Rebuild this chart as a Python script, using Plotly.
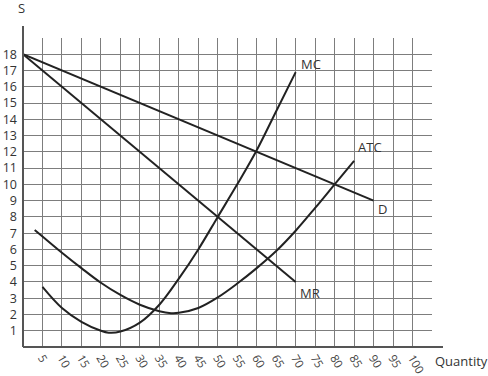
import plotly.graph_objects as go

# Demand and marginal revenue (straight lines)
d_x = [0, 90]
d_y = [18, 9]
mr_x = [0, 70]
mr_y = [18, 4]

# Marginal cost curve
mc_x = [5, 10, 15, 20, 22, 25, 30, 35, 40, 45, 50, 55, 60, 65, 70]
mc_y = [3.7, 2.4, 1.55, 1.0, 0.88, 0.95, 1.5, 2.6, 4.2, 6.0, 8.0, 10.0, 12.1, 14.5, 16.9]

# Average total cost curve
atc_x = [3, 5, 10, 15, 20, 25, 30, 35, 38, 40, 45, 50, 55, 60, 65, 70, 75, 80, 85]
atc_y = [7.2, 6.8, 5.8, 4.85, 3.95, 3.2, 2.6, 2.2, 2.08, 2.1, 2.4, 3.05, 3.9, 4.85, 5.9, 7.15, 8.55, 10.0, 11.45]

# Curve labels
label_text = ["MC", "ATC", "D", "MR"]
label_x = [74, 89, 92.3, 73.8]
label_y = [17.4, 12.3, 8.5, 3.35]

# Axis ticks
x_ticks = list(range(0, 106, 5))
x_ticktext = ["" if v in (0, 105) else str(v) for v in x_ticks]
y_ticks = list(range(0, 20))
y_ticktext = ["" if v in (0, 19) else str(v) for v in y_ticks]

line_color = "#222222"
fig = go.Figure()
for xs, ys, shape in [(d_x, d_y, "linear"), (mr_x, mr_y, "linear"),
                      (mc_x, mc_y, "spline"), (atc_x, atc_y, "spline")]:
    fig.add_trace(go.Scatter(x=xs, y=ys, mode="lines",
                             line=dict(color=line_color, width=2, shape=shape),
                             showlegend=False, hoverinfo="skip"))

for t, x, y in zip(label_text, label_x, label_y):
    fig.add_annotation(x=x, y=y, text=t, showarrow=False, xanchor="center", yanchor="middle",
                       font=dict(size=13, color="#333333"))

fig.add_annotation(xref="paper", yref="paper", x=(461.7 - 23) / 409, y=-(361.7 - 347.5) / 309,
                   xanchor="center", yanchor="middle",
                   text="Quantity", showarrow=False, font=dict(size=13, color="#333333"))
fig.add_annotation(xref="paper", yref="paper", x=(21 - 23) / 409, y=1 + (37.5 - 7.5) / 309,
                   xanchor="center", yanchor="middle",
                   text="S", showarrow=False, font=dict(size=13, color="#333333"))

# Extended axis lines
fig.add_shape(type="line", xref="paper", yref="paper", x0=0, x1=0, y0=0, y1=1 + 12 / 309,
              line=dict(color="#555555", width=2))
fig.add_shape(type="line", xref="paper", yref="paper", x0=0, x1=1 + 11 / 409, y0=0, y1=0,
              line=dict(color="#555555", width=2))

fig.update_layout(
    width=488, height=376,
    margin=dict(l=23, r=56, t=38, b=29),
    paper_bgcolor="white", plot_bgcolor="white",
    font=dict(family="Open Sans, Arial, sans-serif", color="#333333"),
)
fig.update_xaxes(range=[0, 105], tickvals=x_ticks, ticktext=x_ticktext, tickangle=60,
                 automargin=False, ticklabelstandoff=1,
                 showgrid=True, gridcolor="#7d7d7d", gridwidth=1, zeroline=False,
                 showline=False, ticks="", tickfont=dict(size=11.5, color="#444444"))
fig.update_yaxes(range=[0, 19], tickvals=y_ticks, ticktext=y_ticktext,
                 automargin=False, ticklabelstandoff=5,
                 showgrid=True, gridcolor="#7d7d7d", gridwidth=1, zeroline=False,
                 showline=False, ticks="", tickfont=dict(size=12.5, color="#333333"))

fig.write_html("out.html", config={"displayModeBar": False},
               post_script="document.body.style.margin='0';document.body.style.padding='0';")
